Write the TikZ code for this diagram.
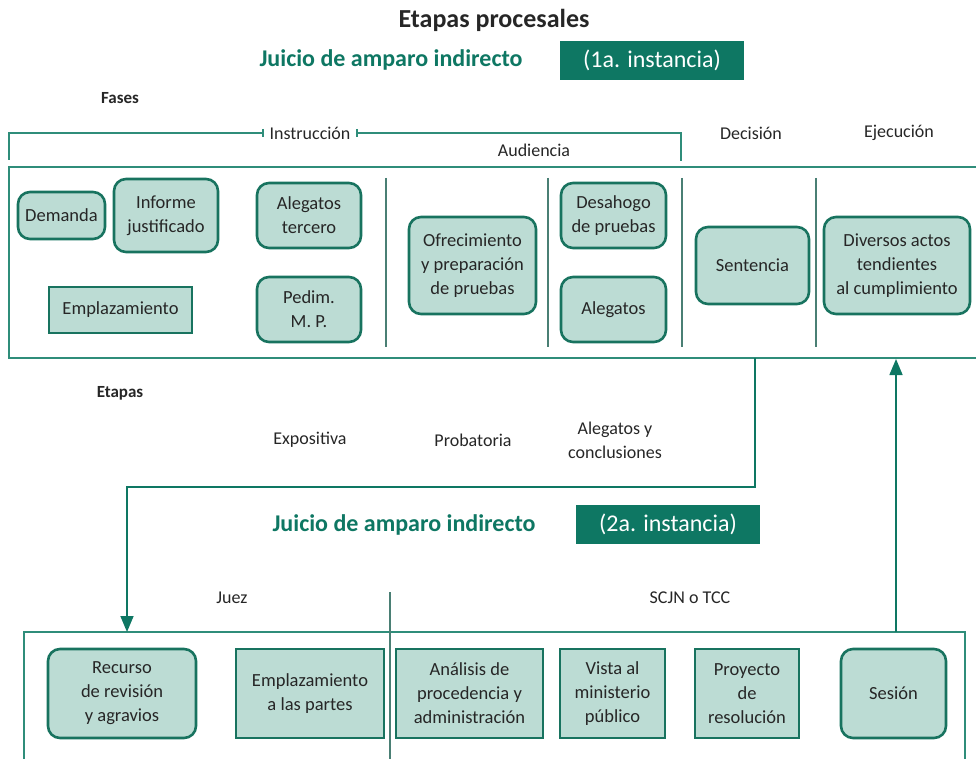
\documentclass[tikz,border=0pt]{standalone}
\usepackage{fontspec}
\setmainfont{Carlito}
\usetikzlibrary{arrows.meta}
\definecolor{tealdk}{HTML}{0E7763}
\definecolor{tealbd}{HTML}{18735F}
\definecolor{tealfill}{HTML}{BCDCD4}
\definecolor{frameln}{HTML}{2F8D7A}
\definecolor{divln}{HTML}{4A7F74}
\definecolor{txt}{HTML}{262626}
\tikzset{
  base/.style={draw=tealbd, line width=2.6pt, fill=tealfill, text=txt, align=center,
    font=\fontsize{18.5}{24}\selectfont, inner sep=0pt},
  rbox/.style={base, rounded corners=12pt},
  sbox/.style={base},
  lbl/.style={text=txt, font=\fontsize{18}{24}\selectfont, align=center, inner sep=0pt},
  bold/.style={text=txt, font=\fontsize{17}{20}\selectfont\bfseries, inner sep=0pt},
  frame/.style={draw=frameln, line width=1.5pt},
  divider/.style={draw=divln, line width=1.3pt},
  conn/.style={draw=tealdk, line width=1.6pt},
  arr/.style={conn, -{Triangle[length=16pt,width=13pt]}},
  bartip/.style={draw=frameln, line width=1.5pt}
}
\begin{document}
\begin{tikzpicture}[x=1pt,y=-1pt]
\useasboundingbox (0,0) rectangle (976,759);

% titles
\node[text=txt, font=\fontsize{26}{30}\selectfont\bfseries, inner sep=0pt] (title) at (494,20) {Etapas procesales};
\node[text=tealdk, font=\fontsize{24}{28}\selectfont\bfseries, inner sep=0pt] (j1) at (391,60) {Juicio de amparo indirecto};
\node[fill=tealdk, text=white, font=\fontsize{24}{28}\selectfont, minimum width=184pt, minimum height=39pt, inner sep=0pt] (i1) at (652,60.5) {(1a. instancia)};
\node[bold] (fases) at (120,98) {Fases};

% bracket Instruccion
\node[lbl] (instr) at (310,133) {Instrucción};
\coordinate (bl) at (9,160);
\coordinate (br) at (681,161);
\draw[bartip] (bl) -- (9,133) -- (263,133);
\draw[bartip] (263,129) -- (263,137);
\draw[bartip] (357,129) -- (357,137);
\draw[bartip] (357,133) -- (681,133) -- (br);
\node[lbl] (aud) at (534,150) {Audiencia};
\node[lbl] (dec) at (751,133) {Decisión};
\node[lbl] (eje) at (899,133) {Ejecución};

% upper frame
\draw[frame] (976,167) -- (9,167) -- (9,358) -- (976,358);
\draw[divider] (386,178) -- (386,347);
\draw[divider] (548,178) -- (548,347);
\draw[divider] (682,178) -- (682,347);
\draw[divider] (816,178) -- (816,347);

% upper boxes
\node[rbox, minimum width=87pt, minimum height=47pt] (dem) at (61.5,215.5) {Demanda};
\node[rbox, minimum width=104pt, minimum height=73pt] (inf) at (166,215.5) {Informe\\justificado};
\node[rbox, minimum width=104pt, minimum height=65pt] (ale3) at (309,215.5) {Alegatos\\tercero};
\node[sbox, minimum width=143pt, minimum height=46pt] (empl) at (120.5,310) {Emplazamiento};
\node[rbox, minimum width=104pt, minimum height=65pt] (ped) at (309,309.5) {Pedim.\\M. P.};
\node[rbox, minimum width=127pt, minimum height=97pt] (ofr) at (472.5,265.5) {Ofrecimiento\\y preparación\\de pruebas};
\node[rbox, minimum width=105pt, minimum height=65pt] (des) at (613.5,215.5) {Desahogo\\de pruebas};
\node[rbox, minimum width=105pt, minimum height=65pt] (aleg) at (613.5,309.5) {Alegatos};
\node[rbox, minimum width=113pt, minimum height=77pt] (sen) at (752.5,265.5) {Sentencia};
\node[rbox, minimum width=146pt, minimum height=97pt] (div) at (897,265.5) {Diversos actos\\tendientes\\al cumplimiento};

% etapas
\node[bold] (etapas) at (120,393) {Etapas};
\node[lbl] (expo) at (310,440) {Expositiva};
\node[lbl] (prob) at (473,440) {Probatoria};
\node[lbl] (alc) at (615,440) {Alegatos y\\conclusiones};

% second instance title
\node[text=tealdk, font=\fontsize{24}{28}\selectfont\bfseries, inner sep=0pt] (j2) at (404,525) {Juicio de amparo indirecto};
\node[fill=tealdk, text=white, font=\fontsize{24}{28}\selectfont, minimum width=184pt, minimum height=39pt, inner sep=0pt] (i2) at (668,524.5) {(2a. instancia)};
\node[lbl] (juez) at (232,598) {Juez};
\node[lbl] (scjn) at (690,598) {SCJN o TCC};

% lower frame
\draw[frame] (24,759) -- (24,632) -- (965,632) -- (965,759);
\draw[divider] (390,592) -- (390,759);

% lower boxes
\node[rbox, minimum width=148pt, minimum height=89pt] (rec) at (122,693.5) {Recurso\\de revisión\\y agravios};
\node[sbox, minimum width=148pt, minimum height=89pt] (empp) at (310,693.5) {Emplazamiento\\a las partes};
\node[sbox, minimum width=147pt, minimum height=89pt] (ana) at (469.5,693.5) {Análisis de\\procedencia y\\administración};
\node[sbox, minimum width=105pt, minimum height=89pt] (vis) at (612.5,693.5) {Vista al\\ministerio\\público};
\node[sbox, minimum width=104pt, minimum height=89pt] (pro) at (747,693.5) {Proyecto\\de\\resolución};
\node[rbox, minimum width=105pt, minimum height=89pt] (ses) at (893.5,693.5) {Sesión};

% connectors
\coordinate (f1out) at (755,358);
\coordinate (f2in) at (127,632);
\coordinate (f2out) at (896,632);
\coordinate (f1in) at (896,359);
\draw[arr] (f1out) -- (755,487) -- (127,487) -- (f2in);
\draw[arr] (f2out) -- (f1in);
\end{tikzpicture}
\end{document}
